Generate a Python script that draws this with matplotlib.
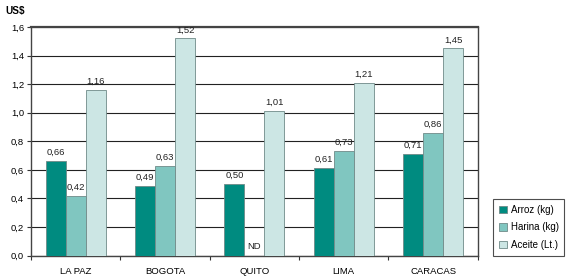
import matplotlib
matplotlib.use("Agg")
import matplotlib.pyplot as plt
import numpy as np

plt.rcParams['font.family'] = ['Liberation Sans', 'DejaVu Sans']

categories = ["LA PAZ", "BOGOTA", "QUITO", "LIMA", "CARACAS"]
series_names = ["Arroz (kg)", "Harina (kg)", "Aceite (Lt.)"]
arroz = [0.66, 0.49, 0.50, 0.61, 0.71]
harina = [0.42, 0.63, None, 0.73, 0.86]
aceite = [1.16, 1.52, 1.01, 1.21, 1.45]
colors = ["#008B80", "#80C6C0", "#CCE6E4"]
yticks = [0.0, 0.2, 0.4, 0.6, 0.8, 1.0, 1.2, 1.4, 1.6]

fig = plt.figure(figsize=(5.67, 2.79), dpi=100)
ax = fig.add_axes([0.0547, 0.084, 0.788, 0.819])

x = np.arange(len(categories))
w = 0.224
series = [arroz, harina, aceite]
for i, (vals, name, c) in enumerate(zip(series, series_names, colors)):
    pos = x + (i - 1) * w
    h = [v if v is not None else 0 for v in vals]
    ax.bar(pos, h, width=w, color=c, edgecolor="#6f8a88", linewidth=0.6,
           label=name, zorder=3)
    for p, v in zip(pos, vals):
        txt = ("%.2f" % v).replace(".", ",") if v is not None else "ND"
        yy = v if v is not None else 0
        ax.annotate(txt, (p, yy), xytext=(0, 3), textcoords="offset points",
                    ha="center", va="bottom", fontsize=6.8, color="#222222",
                    zorder=4)

ax.set_xlim(-0.5, len(categories) - 0.5)
ax.set_ylim(0, 1.6)
ax.set_yticks(yticks)
ax.set_yticklabels([("%.1f" % t).replace(".", ",") for t in yticks], fontsize=6.8)
ax.set_xticks(x)
ax.set_xticklabels(categories, fontsize=6.8)
ax.tick_params(axis="x", length=0, pad=8)
ax.set_xticks(np.arange(len(categories) + 1) - 0.5, minor=True)
ax.tick_params(axis="x", which="minor", length=3, width=0.8, color="#333333")
ax.tick_params(axis="y", length=3, width=0.8, color="#333333", pad=2)
ax.yaxis.grid(True, color="#222222", linewidth=0.8, zorder=0)
for s in ax.spines.values():
    s.set_color("#444444")
    s.set_linewidth(1.0)
ax.spines["top"].set_linewidth(1.6)

fig.text(0.009, 0.962, "US$", fontsize=7.2, fontweight="bold", ha="left", va="center")

leg = ax.legend(loc="lower left", bbox_to_anchor=(1.034, 0.0), fontsize=7,
                frameon=True, fancybox=False, edgecolor="#222222",
                handlelength=0.8, handleheight=0.8, handletextpad=0.4,
                borderpad=0.6, labelspacing=0.75, borderaxespad=0)
leg.get_frame().set_linewidth(0.8)

fig.savefig("out.png", dpi=100)
